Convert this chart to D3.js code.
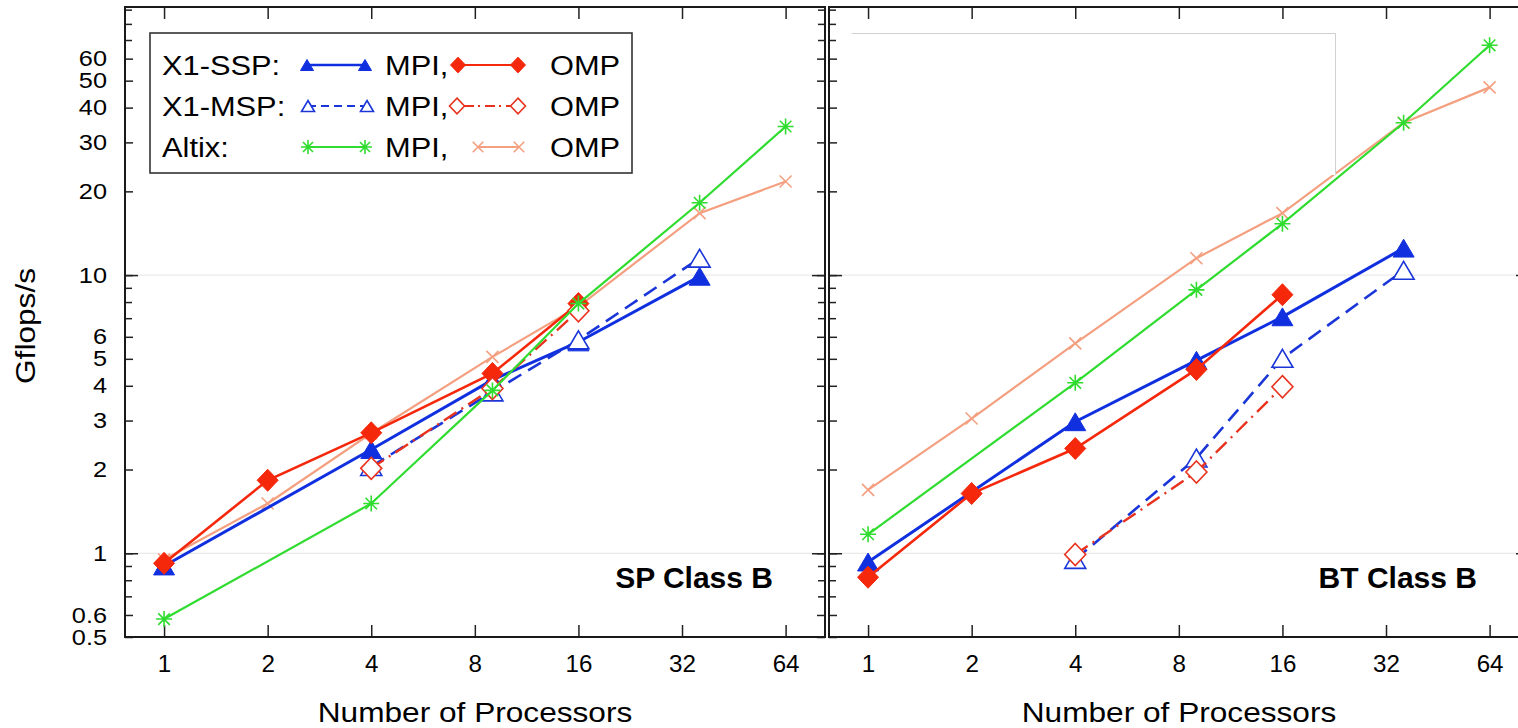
<!DOCTYPE html>
<html>
<head>
<meta charset="utf-8">
<script src="https://cdn.jsdelivr.net/npm/d3@7"></script>
<style>
  body { margin: 0; background: #fff; }
  svg text { font-family: "Liberation Sans", Arial, Helvetica, sans-serif; fill: #000; }
</style>
</head>
<body>
<svg width="1518" height="728"></svg>
<script>
// axis values
const procTicks = [1, 2, 4, 8, 16, 32, 64];
const gflopLabels = [0.5, 0.6, 1, 2, 3, 4, 5, 6, 10, 20, 30, 40, 50, 60];
const gflopMinor = [0.7, 0.8, 0.9, 7, 8, 9, 70, 80, 90];
const gflopDecades = [1, 10];

// SP Class B  (processors, Gflops/s)
const spSspMpiP = [1, 4, 9, 16, 36],            spSspMpi = [0.9, 2.36, 4.2, 5.75, 9.9];
const spSspOmpP = [1, 2, 4, 9, 16],             spSspOmp = [0.92, 1.83, 2.71, 4.43, 7.9];
const spMspMpiP = [4, 9, 16, 36],               spMspMpi = [2.05, 3.8, 5.85, 11.5];
const spMspOmpP = [4, 9, 16],                   spMspOmp = [2.02, 3.91, 7.44];
const spAltMpiP = [1, 4, 9, 16, 36, 64],        spAltMpi = [0.58, 1.51, 3.85, 7.9, 18.2, 34.2];
const spAltOmpP = [1, 2, 4, 9, 16, 36, 64],     spAltOmp = [0.95, 1.51, 2.7, 5.08, 7.7, 16.7, 21.7];

// BT Class B
const btSspMpiP = [1, 4, 9, 16, 36],            btSspMpi = [0.93, 2.97, 4.94, 7.08, 12.5];
const btSspOmpP = [1, 2, 4, 9, 16],             btSspOmp = [0.82, 1.64, 2.38, 4.58, 8.5];
const btMspMpiP = [4, 9, 16, 36],               btMspMpi = [0.95, 2.2, 5.02, 10.4];
const btMspOmpP = [4, 9, 16],                   btMspOmp = [0.99, 1.96, 3.97];
const btAltMpiP = [1, 4, 9, 16, 36, 64],        btAltMpi = [1.17, 4.1, 8.85, 15.3, 35.3, 67];
const btAltOmpP = [1, 2, 4, 9, 16, 36, 64],     btAltOmp = [1.69, 3.05, 5.68, 11.5, 16.7, 35.3, 47.3];

const zip = (p, v) => p.map((d, i) => ({p: d, v: v[i]}));

// looks of each series
const styles = {
  sspMpi: {color: "#1030e0", width: 3,   dash: null,        mark: "tri",    fill: true},
  sspOmp: {color: "#f5280c", width: 2.6, dash: null,        mark: "dia",    fill: true},
  mspMpi: {color: "#1a35d8", width: 2.6, dash: "15,8",      mark: "tri",    fill: false},
  mspOmp: {color: "#e8321e", width: 2.4, dash: "15,6,2,6",  mark: "dia",    fill: false},
  altMpi: {color: "#2fdc2f", width: 2.2, dash: null,        mark: "star",   fill: true},
  altOmp: {color: "#f4a080", width: 2.2, dash: null,        mark: "cross",  fill: true}
};
// draw order
const order = ["altOmp", "sspMpi", "mspMpi", "sspOmp", "mspOmp", "altMpi"];

const panels = [
  {title: "SP Class B", left: 125, series: {
    sspMpi: zip(spSspMpiP, spSspMpi), sspOmp: zip(spSspOmpP, spSspOmp),
    mspMpi: zip(spMspMpiP, spMspMpi), mspOmp: zip(spMspOmpP, spMspOmp),
    altMpi: zip(spAltMpiP, spAltMpi), altOmp: zip(spAltOmpP, spAltOmp)}},
  {title: "BT Class B", left: 829, series: {
    sspMpi: zip(btSspMpiP, btSspMpi), sspOmp: zip(btSspOmpP, btSspOmp),
    mspMpi: zip(btMspMpiP, btMspMpi), mspOmp: zip(btMspOmpP, btMspOmp),
    altMpi: zip(btAltMpiP, btAltMpi), altOmp: zip(btAltOmpP, btAltOmp)}}
];

var svg = d3.select("svg"),
    top_ = 7, bottom = 637, panelW = 700,
    SX = 1.13;   // the original lettering is a bit wider than Liberation Sans

var y = d3.scaleLog().domain([0.5, 92]).range([bottom, top_]);

function stretch(sel, sx, rot) {
  sel.each(function() {
    var t = d3.select(this), x = +t.attr("x") || 0, yy = +t.attr("y") || 0;
    t.attr("x", null).attr("y", null)
     .attr("transform", "translate(" + x + "," + yy + ")" + (rot ? " rotate(" + rot + ")" : "") + " scale(" + sx + ",1)");
  });
}

function markPath(kind, s) {
  // s = half width
  if (kind == "tri") return "M0," + (-s * 0.85) + "L" + s + "," + (s * 0.85) + "L" + (-s) + "," + (s * 0.85) + "Z";
  if (kind == "dia") return "M0," + (-s * 1.05) + "L" + s + ",0L0," + (s * 1.05) + "L" + (-s) + ",0Z";
  if (kind == "star") {
    var a = s * 0.72;
    return "M0," + (-s) + "V" + s + "M" + (-s) + ",0H" + s +
           "M" + (-a) + "," + (-a) + "L" + a + "," + a + "M" + (-a) + "," + a + "L" + a + "," + (-a);
  }
  var c = s * 0.75;
  return "M" + (-c) + "," + (-c) + "L" + c + "," + c + "M" + (-c) + "," + c + "L" + c + "," + (-c);
}

function drawMark(g, st, cx, cy, s) {
  var p = g.append("path").attr("transform", "translate(" + cx + "," + cy + ")").attr("d", markPath(st.mark, s));
  if (st.mark == "star" || st.mark == "cross") {
    p.attr("fill", "none").attr("stroke", st.color).attr("stroke-width", 1.6);
  } else if (st.fill) {
    p.attr("fill", st.color).attr("stroke", st.color).attr("stroke-width", 1);
  } else {
    p.attr("fill", "#fff").attr("stroke", st.color).attr("stroke-width", 1.6);
  }
}

panels.forEach(function(pn, pi) {
  var right = pn.left + panelW;
  var x = d3.scaleLog().base(2).domain([0.77, 83.3]).range([pn.left, right]);
  var g = svg.append("g");

  // faint grid at the decades
  g.selectAll("line.grid").data(gflopDecades).enter().append("line")
      .attr("x1", pn.left).attr("x2", right)
      .attr("y1", d => y(d)).attr("y2", d => y(d))
      .attr("stroke", "#e4e4e4").attr("stroke-width", 1);

  // ticks, all pointing inward
  var ax = [];
  ax.push(g.append("g").attr("transform", "translate(0," + bottom + ")")
      .call(d3.axisBottom(x).tickValues(procTicks).tickFormat(d3.format("d")).tickSizeInner(-12).tickSizeOuter(0).tickPadding(19)));
  ax.push(g.append("g").attr("transform", "translate(0," + top_ + ")")
      .call(d3.axisTop(x).tickValues(procTicks).tickFormat("").tickSizeInner(-12).tickSizeOuter(0)));
  [[pn.left, d3.axisLeft], [right, d3.axisRight]].forEach(function(side) {
    var at = "translate(" + side[0] + ",0)";
    ax.push(g.append("g").attr("transform", at)
        .call(side[1](y).tickValues(gflopLabels).tickFormat(pi == 0 && side[0] == pn.left ? d => String(d) : "")
              .tickSizeInner(-8).tickSizeOuter(0).tickPadding(18)));
    ax.push(g.append("g").attr("transform", at)
        .call(side[1](y).tickValues(gflopMinor.filter(d => d < 92)).tickFormat("").tickSizeInner(-7).tickSizeOuter(0)));
    ax.push(g.append("g").attr("transform", at)
        .call(side[1](y).tickValues(gflopDecades).tickFormat("").tickSizeInner(-13).tickSizeOuter(0)));
  });
  ax.forEach(function(a) {
    a.select(".domain").remove();
    a.selectAll(".tick line").attr("stroke", "#222").attr("stroke-width", 1.5);
  });
  ax[0].selectAll(".tick text").style("font-size", "23px");
  stretch(ax[0].selectAll(".tick text"), 1.05);
  ax[2].selectAll(".tick text").style("font-size", "22px");
  stretch(ax[2].selectAll(".tick text"), 1.15);

  // series
  order.forEach(function(key) {
    var st = styles[key], data = pn.series[key];
    var line = d3.line().x(d => x(d.p)).y(d => y(d.v));
    g.append("path").datum(data).attr("d", line)
        .attr("fill", "none").attr("stroke", st.color).attr("stroke-width", st.width)
        .attr("stroke-dasharray", st.dash);
    var mg = g.append("g");
    data.forEach(function(d) {
      var s = st.mark == "tri" ? 10.5 : st.mark == "dia" ? 10.5 : 8;
      drawMark(mg, st, x(d.p), y(d.v), s);
    });
  });

  // frame
  g.append("rect").attr("x", pn.left).attr("y", top_).attr("width", panelW).attr("height", bottom - top_)
      .attr("fill", "none").attr("stroke", "#1a1a1a").attr("stroke-width", 2);

  g.append("text").attr("x", right - 52).attr("y", 588)
      .attr("text-anchor", "end").style("font-size", "30px").style("font-weight", "bold")
      .text(pn.title);

  var xt = g.append("text").attr("x", pn.left + panelW / 2).attr("y", 722)
      .attr("text-anchor", "middle").style("font-size", "28px").text("Number of Processors");
  stretch(xt, SX);
});

// y axis title
var yt = svg.append("text").attr("x", 35).attr("y", 326).attr("text-anchor", "middle")
    .style("font-size", "28px").text("Gflops/s");
stretch(yt, SX, -90);

// empty white box left in the BT panel
svg.append("rect").attr("x", 852).attr("y", 33).attr("width", 484).attr("height", 142).attr("fill", "#fff");
svg.append("path").attr("d", "M852,33.5H1335.5V175").attr("fill", "none").attr("stroke", "#d0d0d0").attr("stroke-width", 1);

// legend
var lg = svg.append("g");
lg.append("rect").attr("x", 150).attr("y", 33).attr("width", 482).attr("height", 140)
    .attr("fill", "#fff").attr("stroke", "#333").attr("stroke-width", 1.6);
const legendRows = [
  {label: "X1-SSP:", mpi: "sspMpi", omp: "sspOmp", mx: [307, 365], ox: [458, 518]},
  {label: "X1-MSP:", mpi: "mspMpi", omp: "mspOmp", mx: [308, 367], ox: [457, 518]},
  {label: "Altix:",  mpi: "altMpi", omp: "altOmp", mx: [308, 365], ox: [478, 519]}
];
legendRows.forEach(function(r, i) {
  var cy = 65 + i * 41, base = cy + 10;
  var t = lg.append("text").attr("x", 162).attr("y", base).style("font-size", "28px").text(r.label);
  stretch(t, 1.1);
  [[r.mpi, r.mx, 385, "MPI,"], [r.omp, r.ox, 550, "OMP"]].forEach(function(e) {
    var st = styles[e[0]];
    lg.append("line").attr("x1", e[1][0]).attr("x2", e[1][1]).attr("y1", cy).attr("y2", cy)
        .attr("stroke", st.color).attr("stroke-width", st.width * 0.8)
        .attr("stroke-dasharray", st.dash ? (st.mark == "dia" ? "2,5,10,4" : "8,5") : null);
    var s = st.mark == "tri" ? 6.5 : st.mark == "dia" ? 7.5 : 7;
    drawMark(lg, st, e[1][0], cy, s);
    drawMark(lg, st, e[1][1], cy, s);
    var tt = lg.append("text").attr("x", e[2]).attr("y", base).style("font-size", "28px").text(e[3]);
    stretch(tt, 1.1);
  });
});
</script>
</body>
</html>
